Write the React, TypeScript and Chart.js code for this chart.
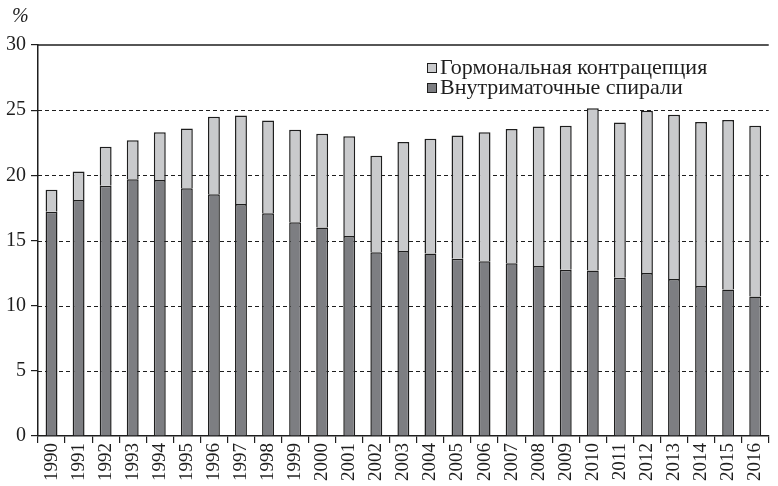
import React, { useEffect, useRef } from "react";
import { Chart, registerables } from "chart.js";

Chart.register(...registerables);

const years = [
  "1990", "1991", "1992", "1993", "1994", "1995", "1996", "1997", "1998",
  "1999", "2000", "2001", "2002", "2003", "2004", "2005", "2006", "2007",
  "2008", "2009", "2010", "2011", "2012", "2013", "2014", "2015", "2016",
];

// Intrauterine devices, % (bottom segment)
const iud = [
  17.2, 18.1, 19.2, 19.7, 19.65, 19.0, 18.55, 17.8, 17.1, 16.4, 16.0, 15.35,
  14.1, 14.2, 14.0, 13.6, 13.4, 13.25, 13.05, 12.75, 12.7, 12.15, 12.5, 12.05,
  11.5, 11.25, 10.7,
];

// Hormonal contraception, % (top segment)
const hormonal = [
  1.7, 2.2, 3.0, 3.0, 3.65, 4.6, 5.95, 6.8, 7.1, 7.1, 7.2, 7.65, 7.4, 8.35,
  8.8, 9.45, 9.9, 10.3, 10.7, 11.05, 12.45, 11.9, 12.45, 12.6, 12.6, 13.0,
  13.1,
];

const yTicks = [0, 5, 10, 15, 20, 25, 30];
const dashedLevels = [5, 10, 15, 20, 25];

const labelHormonal = "Гормональная контрацепция";
const labelIud = "Внутриматочные спирали";
const unitLabel = "%";

const FONT = "'Liberation Serif', 'Times New Roman', serif";
const INK = "#1e1e1e";
const DARK = "#7d7e82";
const LIGHT = "#c9cacc";

const gridPlugin = {
  id: "levelLines",
  beforeDatasetsDraw(chart: any) {
    const { ctx, chartArea, scales } = chart;
    const y = scales.y;
    ctx.save();
    ctx.strokeStyle = INK;
    ctx.lineWidth = 1;
    ctx.setLineDash([4, 3]);
    for (const v of dashedLevels) {
      const py = Math.round(y.getPixelForValue(v)) + 0.5;
      ctx.beginPath();
      ctx.moveTo(chartArea.left, py);
      ctx.lineTo(chartArea.right, py);
      ctx.stroke();
    }
    ctx.setLineDash([]);
    ctx.lineWidth = 1.5;
    const top = y.getPixelForValue(yTicks[yTicks.length - 1]);
    ctx.beginPath();
    ctx.moveTo(chartArea.left, top);
    ctx.lineTo(chartArea.right, top);
    ctx.stroke();
    ctx.restore();
  },
  afterDraw(chart: any) {
    const { ctx } = chart;
    ctx.save();
    // unit label above the value axis
    ctx.fillStyle = INK;
    ctx.font = `italic 20px ${FONT}`;
    ctx.textBaseline = "alphabetic";
    ctx.textAlign = "left";
    ctx.fillText(unitLabel, 12, 22);

    // legend, top entry is the upper segment
    const items = [
      { text: labelHormonal, color: LIGHT },
      { text: labelIud, color: DARK },
    ];
    ctx.font = `22px ${FONT}`;
    items.forEach((it, i) => {
      const baseY = 74 + i * 20;
      ctx.fillStyle = it.color;
      ctx.strokeStyle = INK;
      ctx.lineWidth = 1;
      ctx.fillRect(427.5, baseY - 10.5, 9, 9);
      ctx.strokeRect(427.5, baseY - 10.5, 9, 9);
      ctx.fillStyle = INK;
      ctx.fillText(it.text, 440, baseY);
    });
    ctx.restore();
  },
};

export default function App() {
  const canvasRef = useRef<HTMLCanvasElement | null>(null);

  useEffect(() => {
    const canvas = canvasRef.current;
    if (!canvas) return;
    const chart = new Chart(canvas, {
      type: "bar",
      data: {
        labels: years,
        datasets: [
          {
            label: labelIud,
            data: iud,
            backgroundColor: DARK,
            borderColor: INK,
            borderWidth: 1.5,
            barPercentage: 0.44,
            categoryPercentage: 1,
          },
          {
            label: labelHormonal,
            data: hormonal,
            backgroundColor: LIGHT,
            borderColor: INK,
            borderWidth: 1.5,
            barPercentage: 0.44,
            categoryPercentage: 1,
          },
        ],
      },
      options: {
        responsive: false,
        animation: false,
        layout: { padding: { top: 45, right: 0, bottom: 0, left: 0 } },
        plugins: {
          legend: { display: false },
          tooltip: { enabled: false },
        },
        scales: {
          x: {
            stacked: true,
            offset: true,
            grid: {
              offset: true,
              drawOnChartArea: false,
              drawTicks: true,
              tickLength: 7,
              color: INK,
              lineWidth: 1.2,
            },
            border: { display: true, color: INK, width: 1.5 },
            ticks: {
              color: INK,
              font: { family: FONT, size: 19 },
              minRotation: 90,
              maxRotation: 90,
              autoSkip: false,
              padding: 0,
            },
            afterFit(scale: any) {
              scale.height = 50;
            },
          },
          y: {
            stacked: true,
            min: 0,
            max: 30,
            afterBuildTicks(scale: any) {
              scale.ticks = yTicks.map((v) => ({ value: v }));
            },
            grid: {
              drawOnChartArea: false,
              drawTicks: true,
              tickLength: 7,
              color: INK,
              lineWidth: 1.2,
            },
            border: { display: true, color: INK, width: 1.5 },
            ticks: {
              color: INK,
              font: { family: FONT, size: 20 },
              padding: 5,
            },
            afterFit(scale: any) {
              scale.width = 38;
            },
          },
        },
      },
      plugins: [gridPlugin],
    });
    return () => chart.destroy();
  }, []);

  return (
    <div style={{ position: "absolute", left: 0, top: 0, width: 778, height: 486, background: "#fff" }}>
      <canvas ref={canvasRef} width={778} height={486} style={{ display: "block" }} />
    </div>
  );
}
